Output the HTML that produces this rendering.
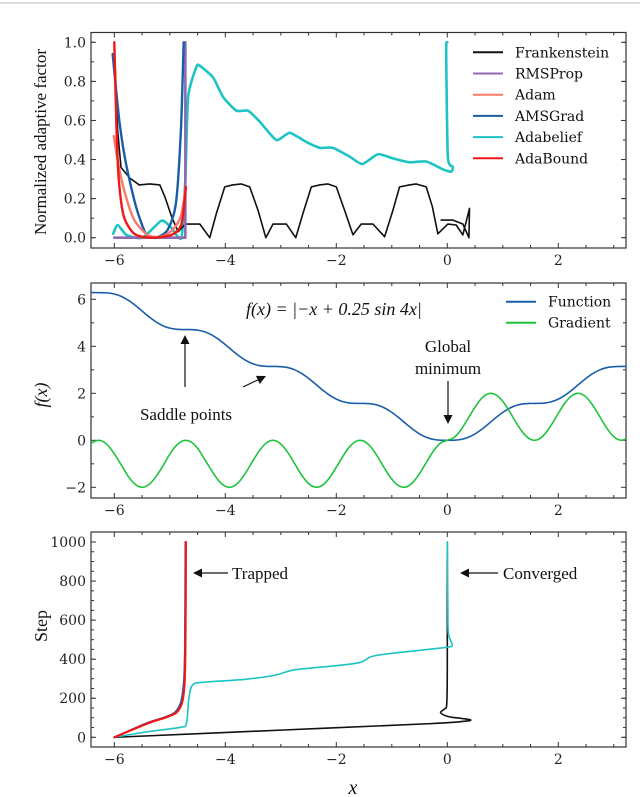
<!DOCTYPE html>
<html><head><meta charset="utf-8"><style>
html,body{margin:0;padding:0;background:#fff}
svg{display:block;font-family:"DejaVu Serif","Liberation Serif",serif}
</style></head><body>
<svg id="chart" width="640" height="797" viewBox="0 0 640 797" xmlns="http://www.w3.org/2000/svg">
<line x1="0" y1="3" x2="640" y2="3" stroke="#bbb" stroke-width="1"/>
<g id="g1"></g>
<g id="g2"></g>
<g id="g3"></g>
</svg>
<script>
// ---------- shared x axis ----------
const xTicks = [-6, -4, -2, 0, 2];
// ---------- panel 1: normalized adaptive factor ----------
const p1Ticks = [0.0, 0.2, 0.4, 0.6, 0.8, 1.0];
const frankX = [-6.00,-5.94,-5.88,-5.72,-5.55,-5.36,-5.18,-5.09,-4.97,-4.85,-4.72,-4.70,-4.46,-4.28,-4.16,-4.01,-3.87,-3.71,-3.56,-3.41,-3.27,-3.14,-2.90,-2.73,-2.60,-2.45,-2.30,-2.15,-2.00,-1.85,-1.70,-1.55,-1.34,-1.13,-0.98,-0.86,-0.68,-0.56,-0.38,-0.27,-0.17,0.01,0.16,0.28,0.40,0.39,0.28,0.10,-0.11];
const frankY = [1.00,0.55,0.36,0.305,0.27,0.275,0.27,0.21,0.11,0.03,0.07,0.07,0.07,0.0,0.125,0.26,0.27,0.275,0.26,0.14,0.0,0.07,0.07,0.0,0.125,0.26,0.27,0.275,0.26,0.14,0.015,0.07,0.07,0.005,0.14,0.26,0.27,0.275,0.26,0.16,0.02,0.07,0.065,0.014,0.15,0.0,0.07,0.09,0.09];
const rmsX = [-6.0,-4.72,-4.72];
const rmsY = [0.0,0.0,1.0];
const adamX = [-6.01,-5.91,-5.79,-5.64,-5.40,-5.16,-4.95,-4.80,-4.71];
const adamY = [0.52,0.35,0.21,0.09,0.014,0.005,0.04,0.11,0.26];
const amsX = [-6.03,-5.91,-5.79,-5.61,-5.43,-5.25,-5.04,-4.89,-4.80,-4.75];
const amsY = [0.94,0.60,0.38,0.16,0.02,0.0,0.04,0.175,0.55,1.0];
const beliefX = [-6.02,-5.94,-5.78,-5.49,-5.15,-4.97,-4.79,-4.72,-4.67,-4.52,-4.46,-4.22,-4.04,-3.80,-3.59,-3.38,-3.08,-2.84,-2.54,-2.30,-2.06,-1.76,-1.53,-1.25,-0.98,-0.68,-0.38,-0.08,0.07,0.10,0.01,-0.02,0.0];
const beliefY = [0.02,0.065,0.014,0.0,0.087,0.05,0.0,0.3,0.72,0.875,0.88,0.82,0.72,0.65,0.65,0.594,0.50,0.537,0.49,0.46,0.46,0.415,0.377,0.427,0.406,0.386,0.39,0.35,0.338,0.363,0.414,0.96,1.0];
const boundX = [-6.0,-5.96,-5.92,-5.83,-5.64,-5.34,-4.97,-4.79,-4.71];
const boundY = [1.0,0.55,0.30,0.11,0.02,0.0,0.014,0.07,0.26];
const legend1 = ["Frankenstein","RMSProp","Adam","AMSGrad","Adabelief","AdaBound"];
// ---------- panel 2: function & gradient ----------
const p2Ticks = [-2, 0, 2, 4, 6];
const fnX = [-6.5,-6.375,-6.25,-6.125,-6.0,-5.875,-5.75,-5.625,-5.5,-5.375,-5.25,-5.125,-5.0,-4.875,-4.75,-4.625,-4.5,-4.375,-4.25,-4.125,-4.0,-3.875,-3.75,-3.625,-3.5,-3.375,-3.25,-3.125,-3.0,-2.875,-2.75,-2.625,-2.5,-2.375,-2.25,-2.125,-2.0,-1.875,-1.75,-1.625,-1.5,-1.375,-1.25,-1.125,-1.0,-0.875,-0.75,-0.625,-0.5,-0.375,-0.25,-0.125,0,0.125,0.25,0.375,0.5,0.625,0.75,0.875,1.0,1.125,1.25,1.375,1.5,1.625,1.75,1.875,2.0,2.125,2.25,2.375,2.5,2.625,2.75,2.875,3.0,3.125,3.25];
const fnY = [6.309,6.286,6.283,6.273,6.227,6.125,5.962,5.748,5.502,5.257,5.041,4.876,4.772,4.724,4.713,4.711,4.688,4.621,4.490,4.303,4.072,3.823,3.588,3.391,3.252,3.174,3.145,3.142,3.134,3.094,3.000,2.845,2.636,2.394,2.147,1.926,1.753,1.641,1.586,1.571,1.570,1.552,1.490,1.370,1.189,0.963,0.715,0.476,0.273,0.126,0.040,0.005,0,0.005,0.040,0.126,0.273,0.476,0.715,0.963,1.189,1.370,1.490,1.552,1.570,1.571,1.586,1.641,1.753,1.926,2.147,2.394,2.636,2.845,3.000,3.094,3.134,3.142,3.145];
const gradY = [-0.353,-0.065,-0.009,-0.193,-0.576,-1.044,-1.533,-1.870,-2.000,-1.882,-1.548,-1.095,-0.592,-0.204,-0.011,-0.060,-0.340,-0.797,-1.275,-1.702,-1.958,-1.978,-1.760,-1.354,-0.863,-0.405,-0.093,-0.003,-0.156,-0.516,-0.996,-1.476,-1.839,-1.997,-1.911,-1.602,-1.146,-0.653,-0.246,-0.023,-0.040,-0.291,-0.716,-1.211,-1.654,-1.936,-1.990,-1.801,-1.416,-0.929,-0.460,-0.122,0,0.122,0.460,0.929,1.416,1.801,1.990,1.936,1.654,1.211,0.716,0.291,0.040,0.023,0.246,0.653,1.146,1.602,1.911,1.997,1.839,1.476,0.996,0.516,0.156,0.003,0.093];
const legend2 = ["Function","Gradient"];
// ---------- panel 3: steps ----------
const p3Ticks = [0, 200, 400, 600, 800, 1000];
const trapX = [-6.0,-5.39,-5.03,-4.84,-4.75,-4.72,-4.71];
const trapY = [0,72,106,140,225,430,1000];
const trapBlueX = [-6.0,-5.42,-5.06,-4.87,-4.77,-4.73,-4.72];
const beliefStepX = [-6.0,-5.39,-4.81,-4.70,-4.66,-4.59,-4.37,-3.64,-3.12,-2.76,-2.17,-1.59,-1.37,-1.0,-0.35,-0.01,0.09,0.02,0.01,0.0];
const beliefStepY = [0,29,51,72,191,268,282,297,317,345,362,382,413,430,450,461,473,532,686,1000];
const frankStepX = [-6.0,-2.9,-0.3,0.30,0.42,0.25,0.02,-0.12,-0.05,-0.01,0.0,0.0];
const frankStepY = [0,38,70,82,89,97,106,126,145,170,345,1000];

const NS="http://www.w3.org/2000/svg";
const XL=91, XR=626, XMIN=-6.42, XMAX=3.22;
function sx(v){return XL+(v-XMIN)/(XMAX-XMIN)*(XR-XL);}
function mk(parent,tag,attrs){const e=document.createElementNS(NS,tag);for(const k in attrs)e.setAttribute(k,attrs[k]);parent.appendChild(e);return e;}
function pathFrom(xs,ys,sy,smooth,ten){
  const T=ten||6;
  const P=xs.map((x,i)=>[sx(x),sy(ys[i])]);
  let d="M"+P[0][0].toFixed(2)+","+P[0][1].toFixed(2);
  for(let i=0;i<P.length-1;i++){
    if(!smooth){d+="L"+P[i+1][0].toFixed(2)+","+P[i+1][1].toFixed(2);continue;}
    const p0=P[i-1]||P[i],p1=P[i],p2=P[i+1],p3=P[i+2]||P[i+1];
    const c1=[p1[0]+(p2[0]-p0[0])/T,p1[1]+(p2[1]-p0[1])/T];
    const c2=[p2[0]-(p3[0]-p1[0])/T,p2[1]-(p3[1]-p1[1])/T];
    d+="C"+c1[0].toFixed(2)+","+c1[1].toFixed(2)+" "+c2[0].toFixed(2)+","+c2[1].toFixed(2)+" "+p2[0].toFixed(2)+","+p2[1].toFixed(2);
  }
  return d;
}
function frame(g,top,bot,sy,yTicks,yMinor,yFmt){
  const ax=mk(g,"g",{});
  
  
  const r=mk(ax,"rect",{x:XL,y:top,width:XR-XL,height:bot-top,fill:"none",stroke:"#333","stroke-width":1.2});
  
  
  for(let v=-6.5;v<=3.2;v+=0.5){
    const x=sx(v);if(x<XL||x>XR)continue;
    const major=xTicks.includes(v);const L=major?5:3;
    mk(ax,"line",{x1:x,y1:bot,x2:x,y2:bot-L,stroke:"#333","stroke-width":1});
    mk(ax,"line",{x1:x,y1:top,x2:x,y2:top+L,stroke:"#333","stroke-width":1});
  }
  xTicks.forEach(v=>{
    const t=mk(ax,"text",{x:sx(v),y:bot+17,"text-anchor":"middle","font-size":14,fill:"#222"});
    t.textContent=(v<0?"\u2212"+(-v):String(v));
    
    
  });
  yMinor.forEach(v=>{
    const y=sy(v);if(y<top||y>bot)return;
    mk(ax,"line",{x1:XL,y1:y,x2:XL+3,y2:y,stroke:"#333","stroke-width":1});
    mk(ax,"line",{x1:XR,y1:y,x2:XR-3,y2:y,stroke:"#333","stroke-width":1});
  });
  yTicks.forEach(v=>{
    const y=sy(v);
    mk(ax,"line",{x1:XL,y1:y,x2:XL+5,y2:y,stroke:"#333","stroke-width":1});
    mk(ax,"line",{x1:XR,y1:y,x2:XR-5,y2:y,stroke:"#333","stroke-width":1});
    const t=mk(ax,"text",{x:XL-5,y:y+5,"text-anchor":"end","font-size":14,fill:"#222"});
    t.textContent=yFmt(v);
    
    
  });
}
function series(g,xs,ys,sy,color,w,name,smooth,ten){
  const p=mk(g,"path",{d:pathFrom(xs,ys,sy,smooth,ten),fill:"none",stroke:color,"stroke-width":w,"stroke-linejoin":"round","stroke-linecap":"round"});
  
  
  return p;
}
function arrow(g,x1,y1,x2,y2,name){
  const a=Math.atan2(y2-y1,x2-x1),L=9,W=4.5;
  const bx=x2-L*Math.cos(a),by=y2-L*Math.sin(a);
  const grp=mk(g,"g",{});
  
  
  mk(grp,"line",{x1:x1,y1:y1,x2:bx,y2:by,stroke:"#111","stroke-width":1.2});
  mk(grp,"polygon",{points:`${x2},${y2} ${bx-W*Math.sin(a)},${by+W*Math.cos(a)} ${bx+W*Math.sin(a)},${by-W*Math.cos(a)}`,fill:"#111"});
}
function label(g,x,y,txt,size,name,extra){
  const t=mk(g,"text",Object.assign({x:x,y:y,"font-size":size,fill:"#111"},extra||{}));
  t.textContent=txt;
  
  
  return t;
}
const serif={"font-family":"'Liberation Serif',serif"};

// ----- panel 1 -----
const g1=document.getElementById("g1");
const sy1=v=>237.7-195.4*v;
const m1=[];for(let v=0;v<=1.001;v+=0.1)m1.push(+v.toFixed(2));
frame(g1,32.5,248,sy1,p1Ticks,m1,v=>v.toFixed(1));
const cl1=mk(g1,"clipPath",{id:"c1"});mk(cl1,"rect",{x:XL,y:32.5,width:XR-XL,height:215.5});
const d1=mk(g1,"g",{"clip-path":"url(#c1)"});


series(d1,beliefX,beliefY,sy1,"#1ec4c4",2.6,"adabelief-line",true,10);
series(d1,frankX,frankY,sy1,"#111",1.6,"frankenstein-line",false);
series(d1,rmsX,rmsY,sy1,"#8e6bb0",2.6,"rmsprop-line",false);
series(d1,amsX,amsY,sy1,"#1a5ea8",2.4,"amsgrad-line",true,8);
series(d1,adamX,adamY,sy1,"#f87a6a",2.4,"adam-line",true,8);
series(d1,boundX,boundY,sy1,"#f01818",2.4,"adabound-line",true,8);
const lc1=["#111","#8e6bb0","#f87a6a","#1a5ea8","#1ec4c4","#f01818"];
legend1.forEach((n,i)=>{
  const y=52.3+i*21.2;
  const e=mk(g1,"g",{});
  
  
  mk(e,"line",{x1:473,y1:y,x2:503,y2:y,stroke:lc1[i],"stroke-width":2});
  const t=mk(e,"text",{x:515,y:y+5,"font-size":14,fill:"#111"});t.textContent=n;
});
label(g1,0,0,"Normalized  adaptive  factor",17,"y-axis-title",Object.assign({transform:"translate(46,142) rotate(-90)","text-anchor":"middle"},serif));

// ----- panel 2 -----
const g2=document.getElementById("g2");
const sy2=v=>440.3-23.5*v;
frame(g2,283,498,sy2,p2Ticks,[-1,1,3,5],v=>(v<0?"\u2212"+(-v):String(v)));
const cl2=mk(g2,"clipPath",{id:"c2"});mk(cl2,"rect",{x:XL,y:283,width:XR-XL,height:215});
const d2=mk(g2,"g",{"clip-path":"url(#c2)"});


series(d2,fnX,fnY,sy2,"#1a5ea8",1.6,"function-line",true);
series(d2,fnX,gradY,sy2,"#1ec43c",1.6,"gradient-line",true);
["#1a5ea8","#1ec43c"].forEach((c,i)=>{
  const y=301.7+i*21;
  const e=mk(g2,"g",{});
  
  
  mk(e,"line",{x1:506,y1:y,x2:536,y2:y,stroke:c,"stroke-width":2});
  const t=mk(e,"text",{x:548,y:y+5,"font-size":14,fill:"#111"});t.textContent=legend2[i];
});
label(g2,246,315,"f(x) = |−x + 0.25 sin 4x|",18,"function-formula",{"font-family":"'Liberation Serif',serif","font-style":"italic"});
arrow(g2,185,387,185,335,"saddle-arrow-1");
arrow(g2,243,387,266,376,"saddle-arrow-2");
label(g2,186,420,"Saddle points",17,"saddle-points-label",Object.assign({"text-anchor":"middle"},serif));
label(g2,448,352,"Global",17,"global-label",Object.assign({"text-anchor":"middle"},serif));
label(g2,448,374,"minimum",17,"minimum-label",Object.assign({"text-anchor":"middle"},serif));
arrow(g2,448,381,448,424,"global-minimum-arrow");
label(g2,0,0,"f(x)",18,"y-axis-title",{transform:"translate(47,395) rotate(-90)","text-anchor":"middle","font-family":"'Liberation Serif',serif","font-style":"italic"});

// ----- panel 3 -----
const g3=document.getElementById("g3");
const sy3=v=>737.3-0.1953*v;
const m3=[];for(let v=0;v<=1000;v+=50)m3.push(v);
frame(g3,532,747,sy3,p3Ticks,m3,v=>String(v));
const d3=mk(g3,"g",{});


series(d3,frankStepX,frankStepY,sy3,"#111",1.6,"frankenstein-step-line",true);
series(d3,beliefStepX,beliefStepY,sy3,"#1ec4c4",1.6,"adabelief-step-line",true);
series(d3,trapBlueX,trapY,sy3,"#8e6bb0",1.8,"rmsprop-step-line",true);
series(d3,trapBlueX,trapY,sy3,"#1a5ea8",1.6,"amsgrad-step-line",true);
series(d3,trapX,trapY,sy3,"#f01818",2.2,"adabound-step-line",true);
arrow(g3,228,573,193,573,"trapped-arrow");
label(g3,232,579,"Trapped",17,"trapped-label",serif);
arrow(g3,498,573,460,573,"converged-arrow");
label(g3,503,579,"Converged",17,"converged-label",serif);
label(g3,0,0,"Step",18,"y-axis-title",Object.assign({transform:"translate(47,626) rotate(-90)","text-anchor":"middle"},serif));
label(g3,353,794,"x",20,"x-axis-title",{"text-anchor":"middle","font-family":"'Liberation Serif',serif","font-style":"italic"});
</script>
</body></html>
